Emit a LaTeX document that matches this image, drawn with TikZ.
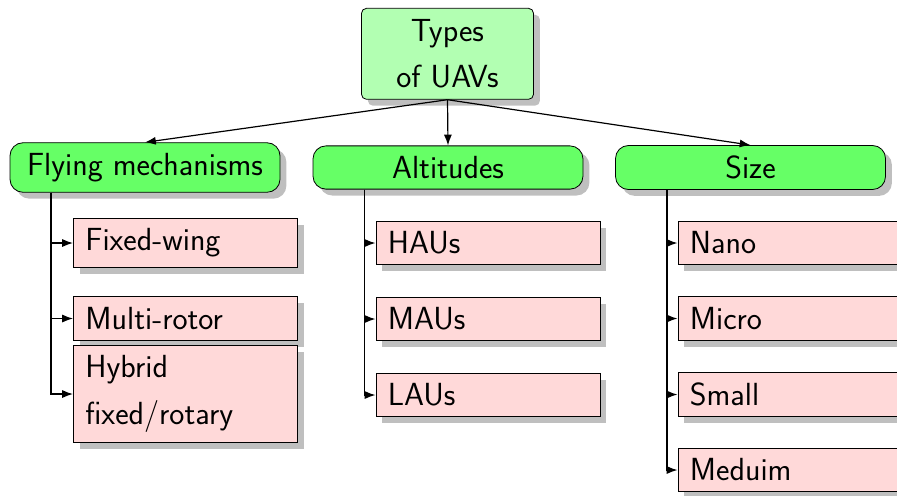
\documentclass[tikz,border=0pt]{standalone}
\usetikzlibrary{shadows,arrows.meta}
\begin{document}
\begin{tikzpicture}[x=0.5pt,y=-0.5pt,
  every node/.style={font=\fontsize{16}{23.3}\selectfont\sffamily, draw=black, line width=0.4pt},
  boxshadow/.style={drop shadow={shadow xshift=3.2pt, shadow yshift=-3.2pt}},
  rootbox/.style={fill=green!30, rounded corners=2.5pt, minimum width=86pt, minimum height=45.5pt,
    align=center, boxshadow},
  groupbox/.style={fill=green!60, rounded corners=6.5pt, minimum width=135pt,
    inner xsep=6pt, inner ysep=5.2pt, boxshadow},
  itembox/.style={fill=red!15, anchor=west, text width=100pt, align=left,
    inner xsep=6pt, inner ysep=5.2pt, boxshadow},
  link/.style={draw=black, line width=0.6pt, -{Latex[length=5.4pt,width=4pt]}}
]
\path[use as bounding box, clip] (0,0) rectangle (897,495);

% top of the tree
\node[rootbox] (root) at (447.5,53.8) {Types\\of UAVs};

% the three groups
\node[groupbox] (fly) at (145,167.5) {Flying mechanisms};
\node[groupbox] (alt) at (448,167.5) {Altitudes};
\node[groupbox] (size) at (750.5,167.5) {Size};

% flying mechanisms
\node[itembox] (fw) at (73,243) {Fixed-wing};
\node[itembox] (mr) at (73,318.5) {Multi-rotor};
\node[itembox] (hy) at (73,394) {Hybrid\\fixed/rotary};

% altitudes
\node[itembox] (hau) at (375.5,243) {HAUs};
\node[itembox] (mau) at (375.5,319) {MAUs};
\node[itembox] (lau) at (375.5,395) {LAUs};

% size
\node[itembox] (nano) at (677.5,243) {Nano};
\node[itembox] (micro) at (677.5,318.5) {Micro};
\node[itembox] (small) at (677.5,394.5) {Small};
\node[itembox] (med) at (677.5,470) {Meduim};

% root to groups
\draw[link] (root.south) -- (fly.north);
\draw[link] (root.south) -- (alt.north);
\draw[link] (root.south) -- (size.north);

% groups to items
\foreach \c in {fw,mr,hy}
  \draw[link] ([xshift=20.7pt]fly.south west) |- (\c.west);
\foreach \c in {hau,mau,lau}
  \draw[link] ([xshift=26.1pt]alt.south west) |- (\c.west);
\foreach \c in {nano,micro,small,med}
  \draw[link] ([xshift=25.9pt]size.south west) |- (\c.west);
\end{tikzpicture}
\end{document}
